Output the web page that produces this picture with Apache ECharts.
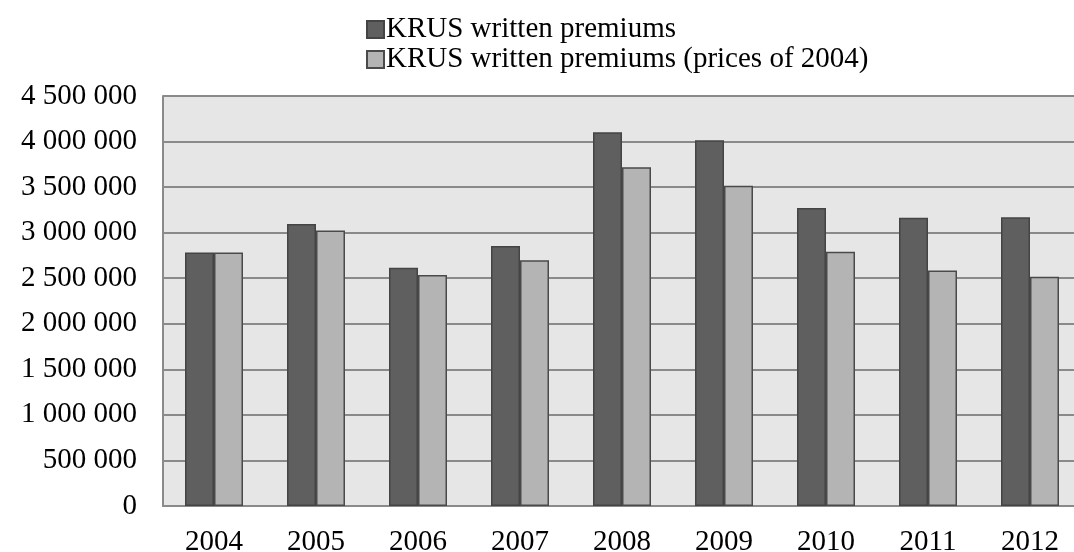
<!DOCTYPE html>
<html>
<head>
<meta charset="utf-8">
<script src="https://cdn.jsdelivr.net/npm/echarts@6/dist/echarts.min.js"></script>
<style>html,body{margin:0;padding:0;background:#fff;overflow:hidden;}#c{width:1074px;height:552px;}</style>
</head>
<body>
<div id="c"></div>
<script>
var categories = ['2004','2005','2006','2007','2008','2009','2010','2011','2012'];
var nominal = [2783000, 3096000, 2615000, 2854000, 4103000, 4015000, 3271000, 3165000, 3168000];
var real2004 = [2783000, 3025000, 2535000, 2696000, 3718000, 3516000, 2791000, 2586000, 2516000];
var seriesNames = ['KRUS written premiums', 'KRUS written premiums (prices of 2004)'];

function fmt(v){ return String(v).replace(/\B(?=(\d{3})+(?!\d))/g, ' '); }

var chart = echarts.init(document.getElementById('c'));
var font = 'Liberation Serif';
chart.setOption({
  animation: false,
  textStyle: { fontFamily: font },
  legend: {
    orient: 'vertical', left: 361, top: 10,
    icon: 'rect',
    itemWidth: 17, itemHeight: 17, itemGap: 1,
    textStyle: { fontFamily: font, fontSize: 29, color: '#000', padding: [0,0,0,-3] },
    data: seriesNames
  },
  grid: {
    left: 163, top: 96, width: 918, height: 410,
    outerBoundsMode: 'none', containLabel: false,
    show: true, backgroundColor: '#e6e6e6', borderWidth: 0
  },
  xAxis: {
    type: 'category', data: categories,
    axisLine: { show: true, lineStyle: { color: '#8a8a8a', width: 2 } },
    axisTick: { show: false },
    axisLabel: { fontFamily: font, fontSize: 29, color: '#000', margin: 22 }
  },
  yAxis: {
    type: 'value', min: 0, max: 4500000, interval: 500000,
    axisLine: { show: true, lineStyle: { color: '#8a8a8a', width: 2 } },
    axisTick: { show: false },
    splitLine: { lineStyle: { color: '#8a8a8a', width: 2 } },
    axisLabel: { fontFamily: font, fontSize: 29, color: '#000', margin: 26, formatter: fmt }
  },
  series: [
    { name: seriesNames[0], type: 'bar', data: nominal, barWidth: 29, barGap: '0%',
      itemStyle: { color: '#5f5f5f', borderColor: '#444444', borderWidth: 1.5 } },
    { name: seriesNames[1], type: 'bar', data: real2004, barWidth: 29, barGap: '0%',
      itemStyle: { color: '#b4b4b4', borderColor: '#4a4a4a', borderWidth: 1.5 } }
  ]
});
</script>
</body>
</html>
